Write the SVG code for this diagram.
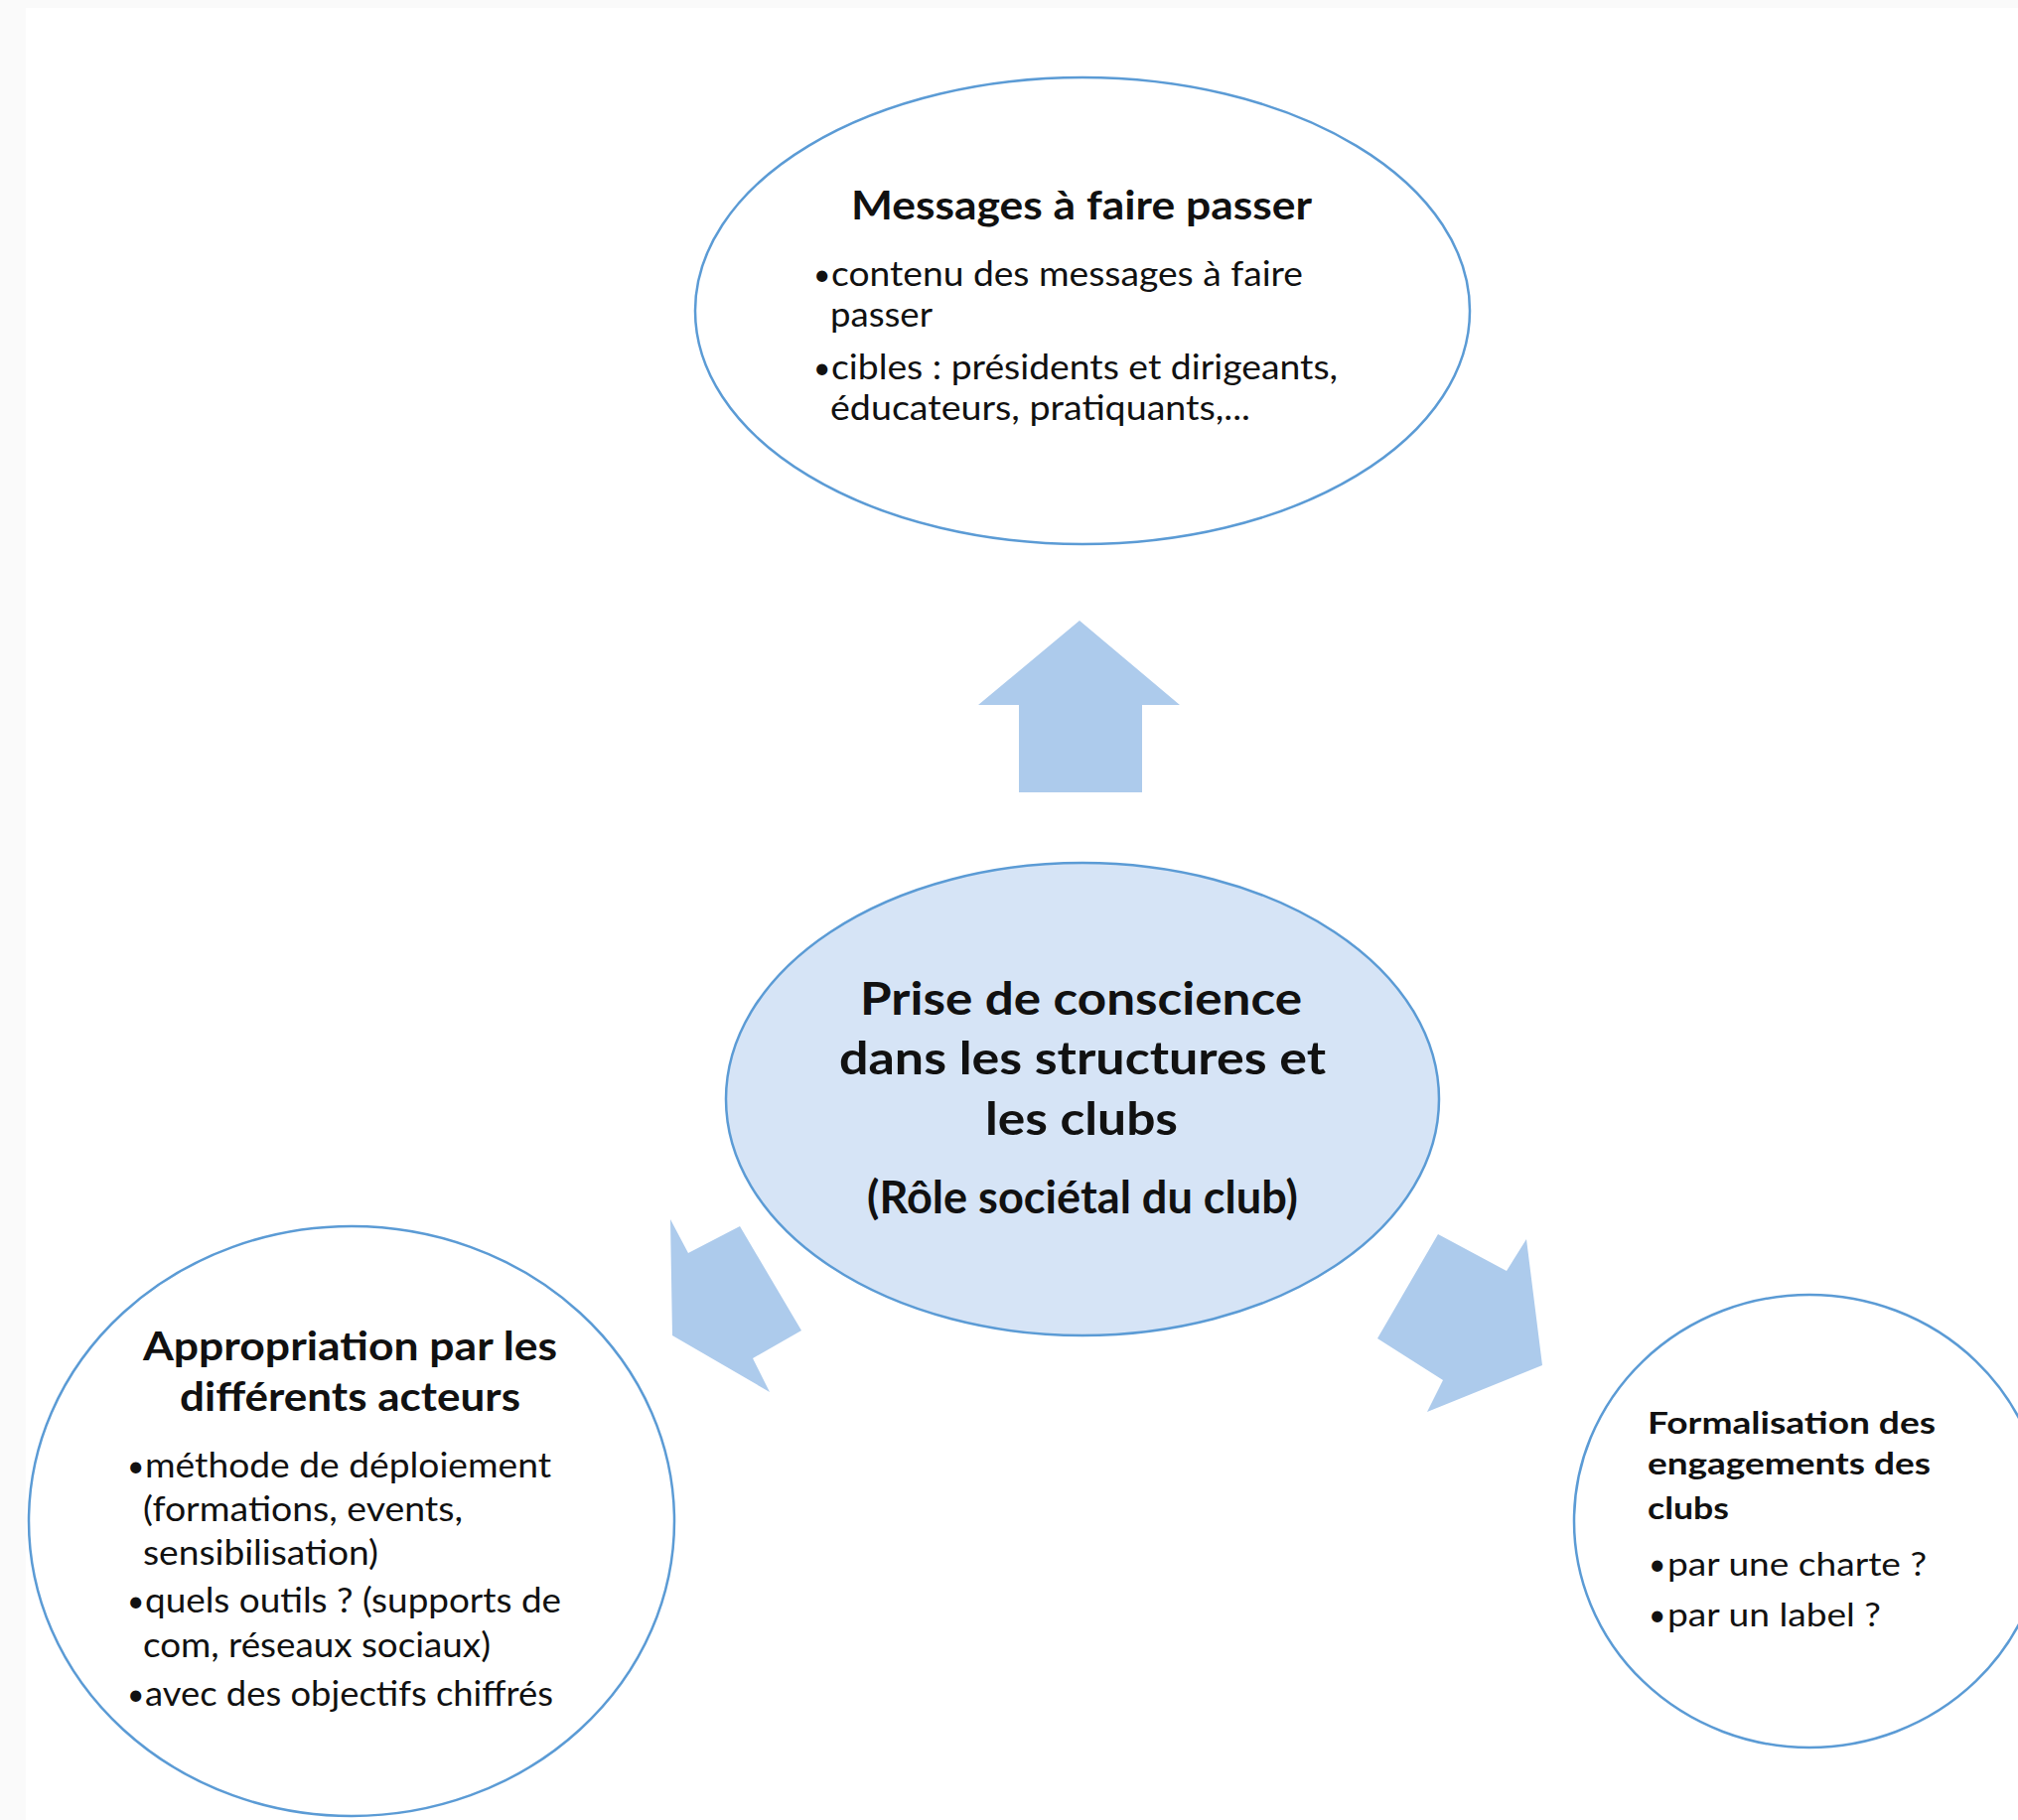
<svg xmlns="http://www.w3.org/2000/svg" width="2032" height="1833" viewBox="0 0 2032 1833">
<style>
.node{stroke:#5B9BD5;stroke-width:2.5}
.plain{fill:#FFFFFF}
.center{fill:#D6E4F6}
.arrow{fill:#ADCBEC}
text{font-family:Lato,"Liberation Sans",sans-serif;fill:#111111}
.h{font-weight:700}
.hc{font-size:45px}
.ht{font-size:40px}
.hr{font-size:31px;font-weight:700}
.b{font-size:35px}
.br{font-size:33px}
.dot{font-size:30px}
</style>
<rect x="0" y="0" width="2032" height="1833" fill="#FAFAFA"/>
<rect x="26" y="8" width="2006" height="1825" fill="#FFFFFF"/>
<g id="connectors">
<polygon class="arrow" points="1087,625 1188,710 1150,710 1150,798 1026,798 1026,710 985,710"/>
<polygon class="arrow" points="675,1228 693,1262 745,1235 807,1340 758,1368 775,1402 677,1345"/>
<polygon class="arrow" points="1448,1243 1387,1348 1453,1390 1437,1422 1553,1375 1537,1248 1517,1280"/>
</g>
<g id="node-messages">
<ellipse class="node plain" cx="1090" cy="313" rx="390" ry="235"/>
<text class="h ht" x="857" y="221" textLength="464" lengthAdjust="spacingAndGlyphs">Messages à faire passer</text>
<text class="dot" x="819" y="287">•</text>
<text class="b" x="837" y="288" textLength="475" lengthAdjust="spacingAndGlyphs">contenu des messages à faire</text>
<text class="b" x="836" y="329" textLength="103" lengthAdjust="spacingAndGlyphs">passer</text>
<text class="dot" x="819" y="381">•</text>
<text class="b" x="837" y="382" textLength="510" lengthAdjust="spacingAndGlyphs">cibles : présidents et dirigeants,</text>
<text class="b" x="836" y="423" textLength="423" lengthAdjust="spacingAndGlyphs">éducateurs, pratiquants,...</text>
</g>
<g id="node-prise">
<ellipse class="node center" cx="1090" cy="1107" rx="359" ry="238"/>
<text class="h hc" x="866" y="1022" textLength="445" lengthAdjust="spacingAndGlyphs">Prise de conscience</text>
<text class="h hc" x="845" y="1082" textLength="490" lengthAdjust="spacingAndGlyphs">dans les structures et</text>
<text class="h hc" x="992" y="1143" textLength="194" lengthAdjust="spacingAndGlyphs">les clubs</text>
<text class="h hc" x="873" y="1222" textLength="434" lengthAdjust="spacingAndGlyphs">(Rôle sociétal du club)</text>
</g>
<g id="node-appropriation">
<ellipse class="node plain" cx="354" cy="1532" rx="325" ry="297"/>
<text class="h ht" x="144" y="1370" textLength="417" lengthAdjust="spacingAndGlyphs">Appropriation par les</text>
<text class="h ht" x="181" y="1421" textLength="343" lengthAdjust="spacingAndGlyphs">différents acteurs</text>
<text class="dot" x="128" y="1487">•</text>
<text class="b" x="146" y="1488" textLength="409" lengthAdjust="spacingAndGlyphs">méthode de déploiement</text>
<text class="b" x="144" y="1532" textLength="322" lengthAdjust="spacingAndGlyphs">(formations, events,</text>
<text class="b" x="144" y="1576" textLength="237" lengthAdjust="spacingAndGlyphs">sensibilisation)</text>
<text class="dot" x="128" y="1623">•</text>
<text class="b" x="146" y="1624" textLength="419" lengthAdjust="spacingAndGlyphs">quels outils ? (supports de</text>
<text class="b" x="144" y="1669" textLength="350" lengthAdjust="spacingAndGlyphs">com, réseaux sociaux)</text>
<text class="dot" x="128" y="1717">•</text>
<text class="b" x="146" y="1718" textLength="411" lengthAdjust="spacingAndGlyphs">avec des objectifs chiffrés</text>
</g>
<g id="node-formalisation">
<ellipse class="node plain" cx="1822" cy="1532" rx="237" ry="228"/>
<text class="hr" x="1659" y="1444" textLength="290" lengthAdjust="spacingAndGlyphs">Formalisation des</text>
<text class="hr" x="1659" y="1485" textLength="285" lengthAdjust="spacingAndGlyphs">engagements des</text>
<text class="hr" x="1659" y="1530" textLength="82" lengthAdjust="spacingAndGlyphs">clubs</text>
<text class="dot" x="1660" y="1586">•</text>
<text class="br" x="1679" y="1587" textLength="261" lengthAdjust="spacingAndGlyphs">par une charte ?</text>
<text class="dot" x="1660" y="1637">•</text>
<text class="br" x="1679" y="1638" textLength="215" lengthAdjust="spacingAndGlyphs">par un label ?</text>
</g>
</svg>
